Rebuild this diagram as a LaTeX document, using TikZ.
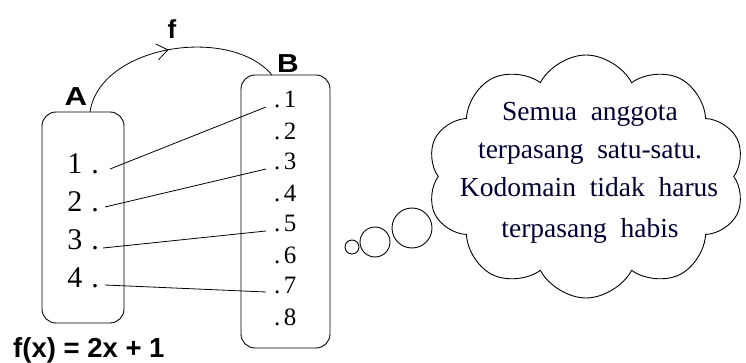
\documentclass[tikz,border=0pt]{standalone}
\usepackage{fontspec}
\setmainfont{Liberation Serif}
\newfontfamily\arialf{Liberation Sans}
\usetikzlibrary{shapes.symbols,decorations.markings,arrows.meta}
\begin{document}
\begin{tikzpicture}[x=1pt,y=-1pt,
  setbox/.style={draw,rounded corners=14pt,line width=0.9pt},
  setlabel/.style={font=\arialf\bfseries\fontsize{26}{26}\selectfont,inner sep=0pt},
  numl/.style={font=\fontsize{30}{30}\selectfont,inner sep=0pt,anchor=base east},
  numr/.style={font=\fontsize{25}{25}\selectfont,inner sep=0pt,anchor=base west},
  cloudtext/.style={font=\fontsize{27.5}{27.5}\selectfont,text=black!80!blue,inner sep=0pt,anchor=base},
  link/.style={line width=0.8pt},
  bubble/.style={draw,circle,line width=0.9pt,inner sep=0pt}]
\useasboundingbox (0,0) rectangle (746,363);
\fill[white] (0,0) rectangle (746,363);
% boxes
\node[setbox,minimum width=82pt,minimum height=211pt] (A) at (83,217.5) {};
\node[setbox,minimum width=89pt,minimum height=273pt] (B) at (285.5,211.5) {};
\node[setlabel,xscale=1.2] (lA) at (76,97) {A};
\node[setlabel,xscale=1.15] (lB) at (288,63.5) {B};
\node[setlabel] (lf) at (172,29) {f};
\coordinate (As) at (90,112);
\coordinate (Be) at (272,75);
\draw[line width=0.8pt,postaction={decorate},
  decoration={markings,mark=at position 0.49 with {\arrow[line width=0.8pt]{Straight Barb[length=11pt,width=16pt]}}}]
  (As) .. controls (100,45) and (230,25) .. (Be);
% left numbers
\node[numl] (a1) at (99,174) {1\hspace{9pt}.};
\node[numl] (a2) at (99,212) {2\hspace{9pt}.};
\node[numl] (a3) at (99,250) {3\hspace{9pt}.};
\node[numl] (a4) at (99,287) {4\hspace{9pt}.};
% right numbers
\foreach \i/\y in {1/108,2/140,3/170,4/202,5/232,6/263,7/293,8/325}
  \node[numr] (b\i) at (274,\y) {.\hspace{3.5pt}\i};
\draw[link] ([xshift=11pt,yshift=5pt]a1.base east) -- ([xshift=-8pt,yshift=1pt]b1.base west);
\draw[link] ([xshift=6pt,yshift=5pt]a2.base east) -- ([xshift=-8pt,yshift=1pt]b3.base west);
\draw[link] ([xshift=4pt,yshift=2pt]a3.base east) -- ([xshift=-8pt,yshift=1pt]b5.base west);
\draw[link] ([xshift=6pt,yshift=2pt]a4.base east) -- ([xshift=-8pt,yshift=1pt]b7.base west);
% formula
\node[setlabel,font=\arialf\bfseries\fontsize{27.5}{27.5}\selectfont,anchor=base west] (fx) at (13,357) {f(x) = 2x + 1};
% cloud
\node[draw,cloud,cloud puffs=10,cloud puff arc=125,aspect=1.35,
  minimum width=318pt,minimum height=243pt,line width=0.9pt] (cl) at (586,176.5) {};
\node[cloudtext] (t1) at (590,121) {Semua\ \ anggota};
\node[cloudtext] (t2) at (590,159) {terpasang\ \ satu-satu.};
\node[cloudtext] (t3) at (589,197) {Kodomain\ \ tidak\ \ harus};
\node[cloudtext] (t4) at (590,237) {terpasang\ \ habis};
\node[bubble,minimum size=14pt] (c1) at (352,247) {};
\node[bubble,minimum size=30pt] (c2) at (375,242) {};
\node[bubble,minimum size=40pt] (c3) at (412,228) {};
\end{tikzpicture}
\end{document}
